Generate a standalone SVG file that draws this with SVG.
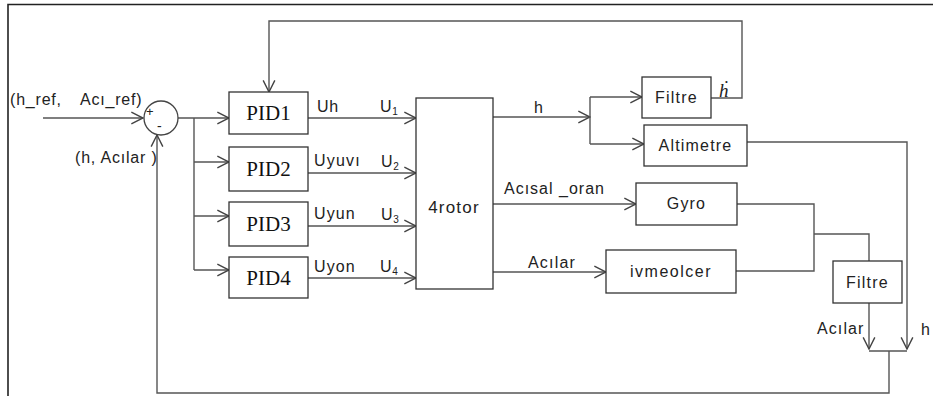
<svg xmlns="http://www.w3.org/2000/svg" width="933" height="396" viewBox="0 0 933 396">
<defs>
<marker id="arr" markerUnits="userSpaceOnUse" markerWidth="14" markerHeight="14" viewBox="0 0 12 12" refX="11" refY="6" orient="auto">
<path d="M1,1 L11,6 L1,11" fill="none" stroke="#444" stroke-width="1.2"/>
</marker>
<style>
.ln{fill:none;stroke:#555;stroke-width:1.4}
.bx{fill:#fff;stroke:#333;stroke-width:1.3}
.t{font-family:"Liberation Sans",Arial,sans-serif;font-size:16px;fill:#222;letter-spacing:0.8px}
.b{font-family:"Liberation Sans",Arial,sans-serif;font-size:16px;fill:#222;letter-spacing:1.2px;text-anchor:middle}
.p{font-family:"Liberation Serif","Times New Roman",serif;font-size:21px;fill:#111;text-anchor:middle}
.s{font-size:10px;letter-spacing:0}
</style>
</defs>
<rect width="933" height="396" fill="#fff"/>
<path d="M8,396 V4.5 H933" fill="none" stroke="#222" stroke-width="1.6"/>

<g id="connectors">
<path class="ln" d="M43,118 H143" marker-end="url(#arr)"/>
<path class="ln" d="M178,118 H229" marker-end="url(#arr)"/>
<path class="ln" d="M194,118 V270"/>
<path class="ln" d="M194,162 H229" marker-end="url(#arr)"/>
<path class="ln" d="M194,216 H229" marker-end="url(#arr)"/>
<path class="ln" d="M194,270 H229" marker-end="url(#arr)"/>
<path class="ln" d="M308,118 H416" marker-end="url(#arr)"/>
<path class="ln" d="M308,173 H416" marker-end="url(#arr)"/>
<path class="ln" d="M308,226 H416" marker-end="url(#arr)"/>
<path class="ln" d="M308,278 H416" marker-end="url(#arr)"/>
<path class="ln" d="M493,117 H590" marker-end="url(#arr)"/>
<path class="ln" d="M590,97 V144"/>
<path class="ln" d="M590,97 H642" marker-end="url(#arr)"/>
<path class="ln" d="M590,144 H644" marker-end="url(#arr)"/>
<path class="ln" d="M711,98 H742 V21 H269 V92" marker-end="url(#arr)"/>
<path class="ln" d="M747,142 H907 V349" marker-end="url(#arr)"/>
<path class="ln" d="M493,204 H636" marker-end="url(#arr)"/>
<path class="ln" d="M493,272 H606" marker-end="url(#arr)"/>
<path class="ln" d="M737,204 H814 V271 H736"/>
<path class="ln" d="M814,234 H869 V261"/>
<path class="ln" d="M869,303 V349" marker-end="url(#arr)"/>
<path class="ln" d="M869,351 H907" stroke="#999"/>
<path class="ln" d="M889,351 V393 H157 V135" marker-end="url(#arr)"/>
</g>

<g id="sum">
<circle cx="161" cy="118" r="17" fill="#fff" stroke="#444" stroke-width="1.3"/>
<text x="146" y="116" class="t" style="font-size:13px;letter-spacing:0">+</text>
<text x="157" y="131" class="t" style="font-size:14px;letter-spacing:0">-</text>
</g>

<g id="inputs">
<text x="10" y="105" class="t">(h_ref,</text>
<text x="80" y="105" class="t">Acı_ref)</text>
<text x="75" y="163" class="t">(h, Acılar )</text>
</g>

<g id="pid1"><rect class="bx" x="229" y="92" width="79" height="42"/><text x="268.5" y="120" class="p">PID1</text></g>
<g id="pid2"><rect class="bx" x="229" y="147" width="79" height="44"/><text x="268.5" y="176" class="p">PID2</text></g>
<g id="pid3"><rect class="bx" x="229" y="202" width="79" height="44"/><text x="268.5" y="231" class="p">PID3</text></g>
<g id="pid4"><rect class="bx" x="229" y="257" width="79" height="41"/><text x="268.5" y="285" class="p">PID4</text></g>

<g id="signals">
<text x="317" y="112" class="t">Uh</text>
<text x="380" y="112" class="t">U<tspan class="s" dy="3">1</tspan></text>
<text x="314" y="166" class="t" style="letter-spacing:1.2px">Uyuvı</text>
<text x="381" y="167" class="t">U<tspan class="s" dy="3">2</tspan></text>
<text x="314" y="219" class="t" style="letter-spacing:1.1px">Uyun</text>
<text x="381" y="220" class="t">U<tspan class="s" dy="3">3</tspan></text>
<text x="314" y="272" class="t" style="letter-spacing:1.1px">Uyon</text>
<text x="380" y="272" class="t">U<tspan class="s" dy="3">4</tspan></text>
</g>

<g id="rotor"><rect class="bx" x="416" y="98" width="77" height="191"/><text x="454" y="213" class="b" style="font-size:17px">4rotor</text></g>

<g id="outputs">
<text x="534" y="113" class="t">h</text>
<text x="504" y="194" class="t" style="letter-spacing:1px">Acısal _oran</text>
<text x="528" y="268" class="t" style="letter-spacing:1.2px">Acılar</text>
<text x="719" y="97" style="font-family:'Liberation Serif',serif;font-style:italic;font-size:19px;fill:#222">ḣ</text>
<text x="817" y="334" class="t" style="letter-spacing:1.1px">Acılar</text>
<text x="921" y="335" class="t">h</text>
</g>

<g id="filtre1"><rect class="bx" x="642" y="77" width="69" height="41"/><text x="676.5" y="103" class="b">Filtre</text></g>
<g id="altimetre"><rect class="bx" x="644" y="125" width="103" height="41"/><text x="695.5" y="151" class="b">Altimetre</text></g>
<g id="gyro"><rect class="bx" x="636" y="183" width="101" height="42"/><text x="686.5" y="209" class="b">Gyro</text></g>
<g id="ivmeolcer"><rect class="bx" x="606" y="250" width="130" height="43"/><text x="671" y="277" class="b" style="letter-spacing:1.5px">ivmeolcer</text></g>
<g id="filtre2"><rect class="bx" x="833" y="261" width="69" height="42"/><text x="867.5" y="288" class="b">Filtre</text></g>
</svg>
